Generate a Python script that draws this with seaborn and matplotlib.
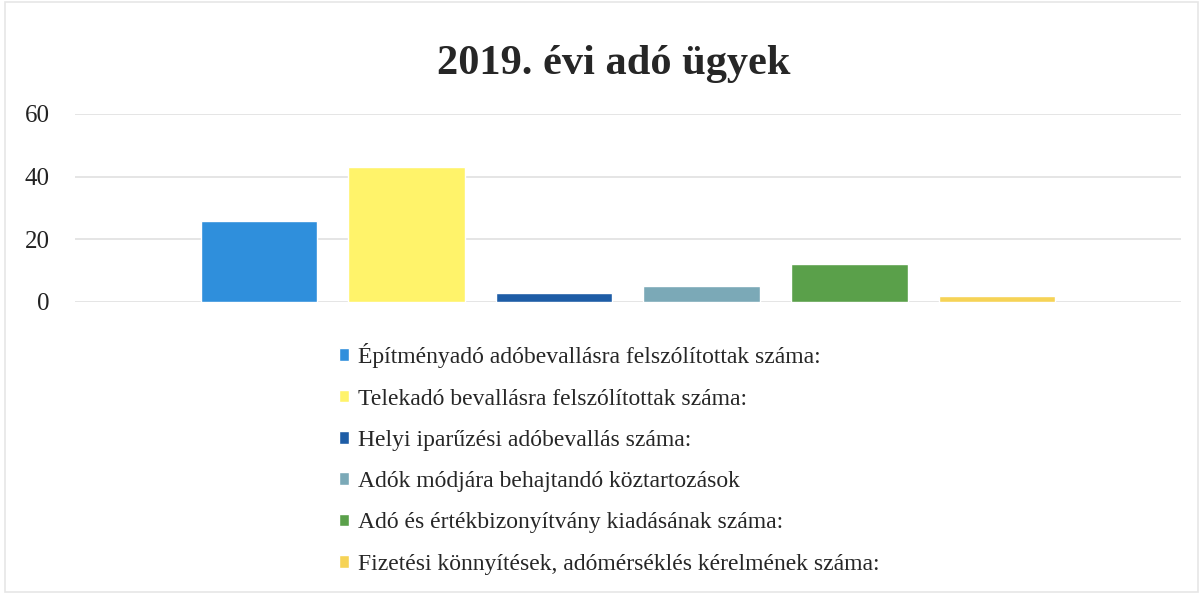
import pandas as pd
import numpy as np
import matplotlib
matplotlib.use("Agg")
import matplotlib.pyplot as plt
import seaborn as sns
from matplotlib.patches import Rectangle

# data
series = [
    "Építményadó adóbevallásra felszólítottak száma:",
    "Telekadó bevallásra felszólítottak száma:",
    "Helyi iparűzési adóbevallás száma:",
    "Adók módjára behajtandó köztartozások",
    "Adó és értékbizonyítvány kiadásának száma:",
    "Fizetési könnyítések, adómérséklés kérelmének száma:",
]
values = [26, 43, 3, 5, 12, 2]
colors = ["#2F8FDC", "#FFF36A", "#1E5DA6", "#7BA9B7", "#5AA04A", "#F6D356"]
yticks = [0, 20, 40, 60]

df = pd.DataFrame({"group": ["2019"] * len(series), "series": series, "value": values})

sns.set_style("white")
plt.rcParams["font.family"] = ["Liberation Serif", "DejaVu Serif"]

fig = plt.figure(figsize=(12.03, 5.94), dpi=100)
ax = fig.add_axes([0.062, 0.4916, 0.92, 0.3165])

sns.barplot(
    data=df, x="group", y="value", hue="series",
    palette=colors, saturation=1, width=0.80, gap=0.21, ax=ax, legend=True
)

ax.set_ylim(0, 60)
ax.set_xlim(-0.5, 0.5)
ax.set_yticks(yticks)
ax.set_yticklabels([str(t) for t in yticks], fontsize=18, color="#222222")
ax.set_xticks([])
ax.set_xlabel("")
ax.set_ylabel("")
ax.grid(axis="y", color="#E0E0E0", linewidth=1.2)
ax.set_axisbelow(True)
for s in ax.spines.values():
    s.set_visible(False)
ax.tick_params(axis="y", length=0, pad=18)

fig.suptitle("2019. évi adó ügyek", x=0.51, y=0.925, fontsize=30.5,
             fontweight="bold", color="#262626")

handles, labels = ax.get_legend_handles_labels()
ax.get_legend().remove()
fig.legend(
    handles, labels, loc="upper left", bbox_to_anchor=(0.264, 0.458),
    frameon=False, fontsize=17, handlelength=0.45, handleheight=0.45,
    handletextpad=0.35, labelspacing=0.86
)

fig.add_artist(Rectangle((0.004, 0.004), 0.992, 0.992, transform=fig.transFigure,
                         fill=False, edgecolor="#E6E6E6", linewidth=1.2))

fig.savefig("out.png", dpi=100)
